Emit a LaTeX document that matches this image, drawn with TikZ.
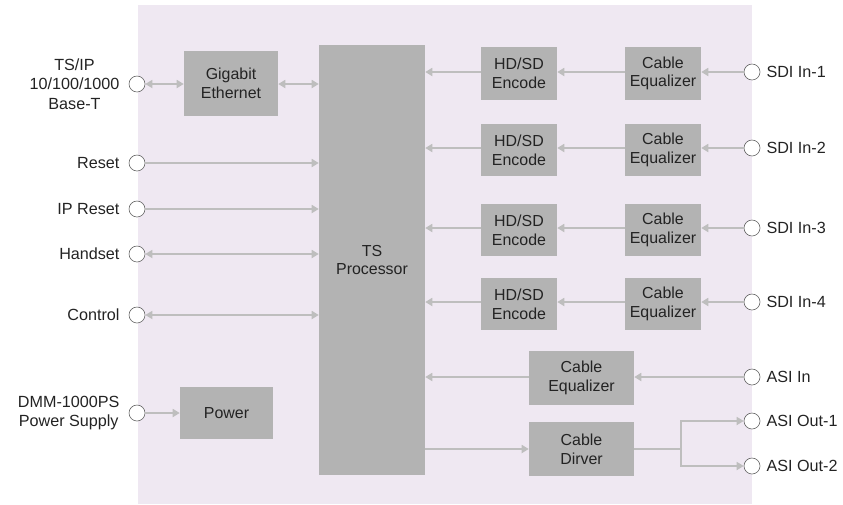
\documentclass[tikz,border=0pt]{standalone}
\usepackage{fontspec}
\setmainfont{Liberation Sans}
\usepackage{tikz}
\usetikzlibrary{arrows.meta,positioning}
\definecolor{dmmpanel}{RGB}{239,232,242}
\definecolor{dmmblock}{RGB}{179,179,179}
\definecolor{dmmline}{RGB}{190,190,190}
\definecolor{dmmring}{RGB}{95,95,95}
\definecolor{dmmtext}{RGB}{35,35,35}

\begin{document}
\begin{tikzpicture}[x=0.03cm, y=-0.03cm,
      block/.style={fill=dmmblock, align=center, inner sep=0pt, text=dmmtext, font=\fontsize{13.6}{16}\selectfont},
      small/.style={block, minimum width=2.28cm, minimum height=1.56cm},
      wide/.style={block, minimum width=3.15cm, minimum height=1.62cm},
      port/.style={circle, draw=dmmring, fill=white, line width=0.5pt, minimum size=0.48cm, inner sep=0pt},
      lbl/.style={inner sep=0pt, align=center, text=dmmtext, font=\fontsize{13.8}{16.5}\selectfont},
      conn/.style={draw=dmmline, line width=2pt, -{Triangle[length=6pt,width=6.8pt]}},
      dconn/.style={conn, {Triangle[length=6pt,width=6.8pt]}-{Triangle[length=6pt,width=6.8pt]}}
    ]
      \useasboundingbox (0,0) rectangle (843,504);
      \fill[dmmpanel] (138,5) rectangle (752,504);

      % main blocks
      \node[block, minimum width=3.18cm, minimum height=12.9cm] (tsp) at (372,260) {TS\\Processor};
      \node[block, minimum width=2.82cm, minimum height=1.95cm] (geth) at (231,83.5) {Gigabit\\Ethernet};
      \node[block, minimum width=2.79cm, minimum height=1.56cm] (pwr) at (226.5,413) {Power};

      \node[small] (enc1) at (519,73.5) {HD/SD\\Encode};
      \node[small] (eq1) at (663,73.5) {Cable\\Equalizer};
      \node[small] (enc2) at (519,150) {HD/SD\\Encode};
      \node[small] (eq2) at (663,150) {Cable\\Equalizer};
      \node[small] (enc3) at (519,230) {HD/SD\\Encode};
      \node[small] (eq3) at (663,230) {Cable\\Equalizer};
      \node[small] (enc4) at (519,304) {HD/SD\\Encode};
      \node[small] (eq4) at (663,304) {Cable\\Equalizer};
      \node[wide] (asieq) at (581.5,378) {Cable\\Equalizer};
      \node[wide] (drv) at (581.5,449) {Cable\\Dirver};

      % left ports
      \node[port] (ptsip) at (137,84) {};
      \node[port] (preset) at (137,163) {};
      \node[port] (pipreset) at (137,209) {};
      \node[port] (phandset) at (137,254) {};
      \node[port] (pcontrol) at (137,315) {};
      \node[port] (ppower) at (137,413) {};
      \node[lbl, left=0.27cm of ptsip] (ltsip) {TS/IP\\10/100/1000\\Base-T};
      \node[lbl, left=0.27cm of preset] (lreset) {Reset};
      \node[lbl, left=0.27cm of pipreset] (lipreset) {IP Reset};
      \node[lbl, left=0.27cm of phandset] (lhandset) {Handset};
      \node[lbl, left=0.27cm of pcontrol] (lcontrol) {Control};
      \node[lbl, left=0.27cm of ppower] (lpower) {DMM-1000PS\\Power Supply};

      % right ports
      \node[port] (psdi1) at (752,72) {};
      \node[port] (psdi2) at (752,148) {};
      \node[port] (psdi3) at (752,228) {};
      \node[port] (psdi4) at (752,302) {};
      \node[port] (pasiin) at (752,377) {};
      \node[port] (pout1) at (752,421) {};
      \node[port] (pout2) at (752,466) {};
      \node[lbl, right=0.18cm of psdi1] (lsdi1) {SDI In-1};
      \node[lbl, right=0.18cm of psdi2] (lsdi2) {SDI In-2};
      \node[lbl, right=0.18cm of psdi3] (lsdi3) {SDI In-3};
      \node[lbl, right=0.18cm of psdi4] (lsdi4) {SDI In-4};
      \node[lbl, right=0.18cm of pasiin] (lasiin) {ASI In};
      \node[lbl, right=0.18cm of pout1] (lout1) {ASI Out-1};
      \node[lbl, right=0.18cm of pout2] (lout2) {ASI Out-2};

      % left side connections
      \draw[dconn] (ptsip) -- (ptsip -| geth.west);
      \draw[dconn] (geth.east |- ptsip) -- (ptsip -| tsp.west);
      \draw[conn] (preset) -- (preset -| tsp.west);
      \draw[conn] (pipreset) -- (pipreset -| tsp.west);
      \draw[dconn] (phandset) -- (phandset -| tsp.west);
      \draw[dconn] (pcontrol) -- (pcontrol -| tsp.west);
      \draw[conn] (ppower) -- (ppower -| pwr.west);

      % SDI inputs
      \draw[conn] (psdi1) -- (psdi1 -| eq1.east);
      \draw[conn] (eq1.west |- psdi1) -- (psdi1 -| enc1.east);
      \draw[conn] (enc1.west |- psdi1) -- (psdi1 -| tsp.east);
      \draw[conn] (psdi2) -- (psdi2 -| eq2.east);
      \draw[conn] (eq2.west |- psdi2) -- (psdi2 -| enc2.east);
      \draw[conn] (enc2.west |- psdi2) -- (psdi2 -| tsp.east);
      \draw[conn] (psdi3) -- (psdi3 -| eq3.east);
      \draw[conn] (eq3.west |- psdi3) -- (psdi3 -| enc3.east);
      \draw[conn] (enc3.west |- psdi3) -- (psdi3 -| tsp.east);
      \draw[conn] (psdi4) -- (psdi4 -| eq4.east);
      \draw[conn] (eq4.west |- psdi4) -- (psdi4 -| enc4.east);
      \draw[conn] (enc4.west |- psdi4) -- (psdi4 -| tsp.east);

      % ASI
      \draw[conn] (pasiin) -- (pasiin -| asieq.east);
      \draw[conn] (asieq.west |- pasiin) -- (pasiin -| tsp.east);
      \draw[conn] (tsp.east |- drv) -- (drv.west);
      \coordinate (split) at (681,449);
      \draw[conn, -] (drv.east) -- (split);
      \draw[conn] (split) |- (pout1);
      \draw[conn] (split) |- (pout2);
    \end{tikzpicture}
\end{document}
